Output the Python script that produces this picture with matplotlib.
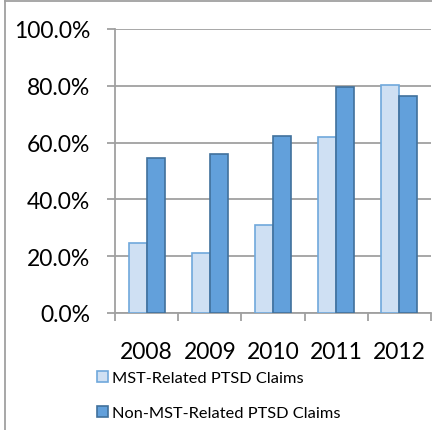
import matplotlib
matplotlib.use('Agg')
import numpy as np
from matplotlib import pyplot as plt
from matplotlib.patches import Rectangle
from matplotlib.lines import Line2D

years = ['2008', '2009', '2010', '2011', '2012']
mst = [24.5, 21.0, 31.0, 62.1, 80.4]
non_mst = [54.5, 56.0, 62.4, 79.7, 76.5]
yticks = [0, 20, 40, 60, 80, 100]
labels = ['MST-Related PTSD Claims', 'Non-MST-Related PTSD Claims']

plt.rcParams['font.family'] = ['Lato', 'DejaVu Sans']

fig = plt.figure(figsize=(4.32, 4.31), dpi=100, facecolor='white', edgecolor='white')
ax = fig.add_axes([115/432, 117/431, 316/432, 284/431])

x = np.arange(len(years))
w = 1/3.5
light_fc, light_ec = '#cfe0f3', '#6fa8dc'
dark_fc, dark_ec = '#62a0db', '#41719c'

ax.bar(x - w/2, mst, w, color=light_fc, edgecolor=light_ec, linewidth=1.2, zorder=3)
ax.bar(x + w/2, non_mst, w, color=dark_fc, edgecolor=dark_ec, linewidth=1.2, zorder=3)

ax.set_xlim(-0.5, len(years) - 0.5)
ax.set_ylim(0, 100)
ax.set_yticks(yticks)
ax.set_yticklabels(['%.1f%%' % v for v in yticks], fontsize=16.5)
ax.yaxis.grid(True, color='#a0a0a0', linewidth=1.3, zorder=0)
ax.tick_params(axis='y', length=6, width=1.3, color='#a0a0a0', pad=12)

ax.set_xticks(x)
ax.set_xticklabels(years, fontsize=16.5)
ax.set_xticks(np.arange(len(years) + 1) - 0.5, minor=True)
ax.tick_params(axis='x', which='major', length=0, pad=20)
ax.tick_params(axis='x', which='minor', length=6, width=1.3, color='#a0a0a0')

for s in ['top', 'right']:
    ax.spines[s].set_visible(False)
for s in ['left', 'bottom']:
    ax.spines[s].set_color('#a0a0a0')
    ax.spines[s].set_linewidth(1.3)

handles = [Rectangle((0, 0), 1, 1, facecolor=light_fc, edgecolor=light_ec, linewidth=1.2),
           Rectangle((0, 0), 1, 1, facecolor=dark_fc, edgecolor=dark_ec, linewidth=1.2)]
fig.legend(handles, labels, loc='upper left', bbox_to_anchor=(97/432, 1 - 372/431),
           frameon=False, fontsize=11.8, handlelength=0.65, handleheight=0.65,
           handletextpad=0.25, labelspacing=1.25, borderpad=0, borderaxespad=0)

# outer chart frame (left and top edges only)
fig.add_artist(Line2D([4.5/432, 4.5/432], [0, 1 - 2/431], transform=fig.transFigure,
                      color='#a0a0a0', linewidth=1.3))
fig.add_artist(Line2D([4.5/432, 1], [1 - 2/431, 1 - 2/431], transform=fig.transFigure,
                      color='#a0a0a0', linewidth=1.3))

fig.savefig('out.png', dpi=100, facecolor='white')
